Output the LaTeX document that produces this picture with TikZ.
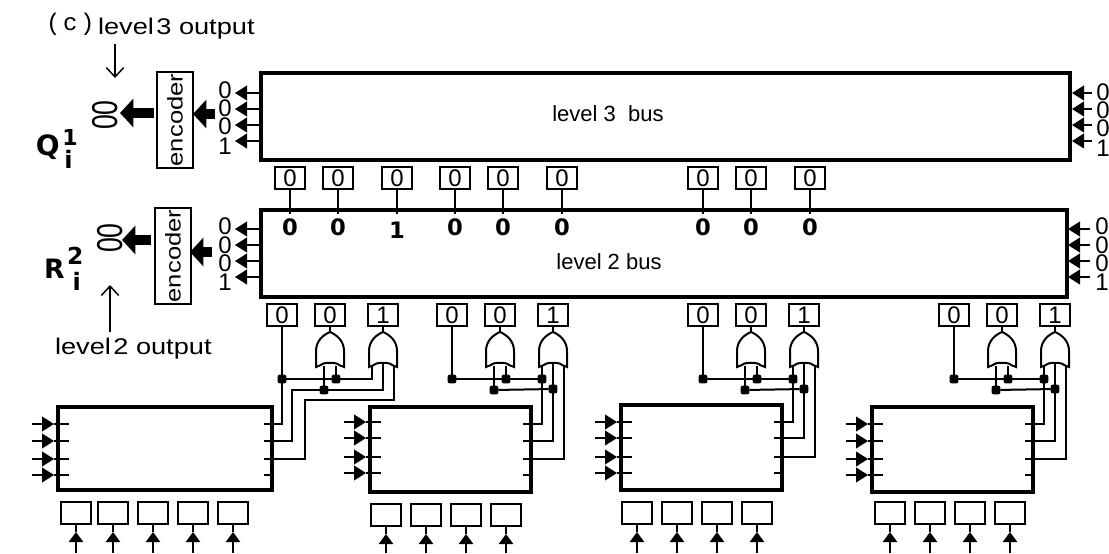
\documentclass[tikz,border=0pt]{standalone}
\usepackage{fontspec}
\setmainfont{Liberation Sans}
\newfontfamily\boldfam{DejaVu Sans}
\newfontfamily\monofam{Liberation Mono}
\usetikzlibrary{arrows.meta,calc}
\newcommand{\fs}[1]{\fontsize{#1}{#1}\selectfont}
\tikzset{
  every node/.style={inner sep=0pt,outer sep=0pt},
  wire/.style={line width=1.5pt,black},
  blockbox/.style={draw,line width=3.2pt},
  regbox/.style={draw,line width=1.6pt,minimum width=22.5pt,minimum height=16.5pt,font=\fs{18}},
  inbox/.style={draw,line width=1.6pt,minimum width=22.5pt,minimum height=16.5pt},
  encbox/.style={draw,line width=1.4pt,minimum width=27pt},
  dot/.style={rectangle,rounded corners=1.5pt,fill=black,minimum size=6.5pt},
  smallarrow/.style={wire,-{Triangle[length=9pt,width=11pt]}},
  fatarrow/.style={line width=7.5pt,-{Triangle[length=10pt,width=21pt]}},
  uparrow/.style={line width=2.2pt,-{Triangle[length=7.5pt,width=10.5pt]}},
  openarrow/.style={line width=1.1pt,-{Straight Barb[length=7pt,width=13pt]}},
  stackdigit/.style={font=\fs{18}},
  bolddigit/.style={font=\fs{17}\boldfam\bfseries},
  label/.style={font=\fs{16.5}},
}
% OR gate with its apex (#1) at x = #2 and inputs #1-l, #1-m, #1-r spaced by #3
\newcommand{\orgate}[3]{%
  \coordinate (#1) at (#2,332);
  \coordinate (#1-l) at (#2-#3,366);
  \coordinate (#1-m) at (#2,363);
  \coordinate (#1-r) at (#2+#3,366);
  \draw[wire] (#2,332) .. controls (#2+7,335) and (#2+14,341) .. (#2+14,351) -- (#2+14,367)
    -- (#2+9,365) .. controls (#2+7,362) and (#2-7,362) .. (#2-9,365) -- (#2-14,367) -- (#2-14,351)
    .. controls (#2-14,341) and (#2-7,335) .. (#2,332);
}
% block with left tick heights #6 and right tick heights #7
\newcommand{\myblock}[7]{%
  \node[blockbox,minimum width={(#3-#2)*.75pt},minimum height={(#5-#4)*.75pt}] (#1) at ({(#2+#3)/2},{(#4+#5)/2}) {};
  \foreach \yy [count=\ii] in {#6} {
    \coordinate (#1-a\ii) at (#2-26,\yy);
    \coordinate (#1-h\ii) at (#2-4,\yy);
    \coordinate (#1-t\ii) at (#2+11,\yy);
    \draw[smallarrow] (#1-a\ii) -- (#1-h\ii);
    \draw[wire] (#1-h\ii) -- (#1-t\ii);
  }
  \foreach \yy [count=\ii] in {#7} {
    \coordinate (#1-r\ii) at (#3,\yy);
    \coordinate (#1-q\ii) at (#3-8,\yy);
    \draw[wire] (#1-q\ii) -- (#1-r\ii);
  }
}
% input register #1 centred at x #2, y #3, with its arrow from the lower edge
\newcommand{\inreg}[3]{%
  \node[inbox] (#1) at (#2,#3) {};
  \coordinate (#1-in) at (#2,553);
  \coordinate (#1-tip) at (#2,#3+19);
  \draw[uparrow] (#1-in) -- (#1-tip);
  \draw[wire] (#1-tip) -- (#1.south);
}
\begin{document}
\begin{tikzpicture}[x=.75pt,y=-.75pt]
\useasboundingbox (0,0) rectangle (1109,553);

% buses
\node[blockbox,minimum width=606.5pt,minimum height=65.5pt] (bus3) at (665.5,116.5) {};
\node[label] (bus3t) at (608,114) {level 3\ \ bus};
\node[blockbox,minimum width=604.5pt,minimum height=65.5pt] (bus2) at (664,253.5) {};
\node[label] (bus2t) at (609,262) {level 2 bus};

% bus side arrows and digits
\foreach \yy/\dd/\dy [count=\ii] in {93/0/90, 109/0/108.5, 125/0/126.5, 141/1/146} {
  \coordinate (l3a\ii) at (259,\yy);
  \coordinate (l3b\ii) at (235,\yy);
  \draw[smallarrow] (l3a\ii) -- (l3b\ii);
  \node[stackdigit] (l3d\ii) at (225,\dy) {\dd};
  \coordinate (r3a\ii) at (1092,\yy);
  \coordinate (r3b\ii) at (1072,\yy);
  \draw[smallarrow] (r3a\ii) -- (r3b\ii);
  \node[stackdigit] (r3d\ii) at (1103,\dy+2) {\dd};
}
\foreach \yy/\dd/\dy [count=\ii] in {229/0/226, 245/0/245, 261/0/263, 277/1/282} {
  \coordinate (l2a\ii) at (259,\yy);
  \coordinate (l2b\ii) at (235,\yy);
  \draw[smallarrow] (l2a\ii) -- (l2b\ii);
  \node[stackdigit] (l2d\ii) at (225,\dy) {\dd};
  \coordinate (r2a\ii) at (1090,\yy);
  \coordinate (r2b\ii) at (1068,\yy);
  \draw[smallarrow] (r2a\ii) -- (r2b\ii);
  \node[stackdigit] (r2d\ii) at (1102,\dy) {\dd};
}

% encoders
\node[encbox,minimum height=72pt] (enc3) at (175,120) {};
\node[rotate=90,font=\fs{16}] (enc3t) at (175,120) {\scalebox{1.2}[1]{encoder}};
\node[encbox,minimum height=72pt] (enc2) at (173,256) {};
\node[rotate=90,font=\fs{16}] (enc2t) at (173,256) {\scalebox{1.2}[1]{encoder}};
\coordinate (f3a) at (215,114); \coordinate (f3b) at (193,114);
\coordinate (f3c) at (154,113); \coordinate (f3d) at (120,113);
\coordinate (f2a) at (212,252); \coordinate (f2b) at (190,252);
\coordinate (f2c) at (151,240); \coordinate (f2d) at (122,240);
\draw[fatarrow] (f3a) -- (f3b);
\draw[fatarrow] (f3c) -- (f3d);
\draw[fatarrow] (f2a) -- (f2b);
\draw[fatarrow] (f2c) -- (f2d);
\node[rotate=90,font=\fs{20}] (o3) at (105,115) {\scalebox{1}[1.35]{00}};
\node[rotate=90,font=\fs{20}] (o2) at (110,238) {\scalebox{1}[1.35]{00}};

% labels
\node[font=\fs{17},anchor=west] (t3) at (98,29) {\scalebox{1.2}[1]{level\kern1.5pt 3 output}};
\node[font=\fs{17},anchor=west] (t2) at (55,349) {\scalebox{1.2}[1]{level\kern1.5pt 2 output}};
\node[font=\fs{18}\monofam,anchor=west] (tc) at (46,24) {(\hspace{2pt}c\hspace{2pt})};
\coordinate (ar3a) at (115,44); \coordinate (ar3b) at (115,78);
\coordinate (ar2a) at (110,332); \coordinate (ar2b) at (110,285);
\draw[openarrow] (ar3a) -- (ar3b);
\draw[openarrow] (ar2a) -- (ar2b);
\node[font=\fs{21}\boldfam\bfseries,anchor=base west] (Q) at (36,155) {Q\raisebox{7pt}{\fs{16.5}\rlap{\hspace{2pt}1}}\raisebox{-10pt}{\fs{18}\hspace{3.5pt}i}};
\node[font=\fs{20}\boldfam\bfseries,anchor=base west] (R) at (44,278) {R\raisebox{10pt}{\fs{17.5}\rlap{\hspace{2pt}2}}\raisebox{-9pt}{\fs{18}\hspace{6pt}i}};

% level 3 registers
\foreach \cx/\dd/\dy [count=\ii] in {290/0/227, 338/0/227, 397/1/230, 455/0/227, 503/0/227, 562/0/227, 703/0/227, 751/0/227, 810/0/227} {
  \node[regbox] (u\ii) at (\cx,178) {0};
  \coordinate (ut\ii) at (\cx,214);
  \draw[wire] (u\ii.south) -- (ut\ii);
  \node[bolddigit] (ud\ii) at (\cx,\dy) {\dd};
}

% level 2 registers
\foreach \cx/\dd [count=\ii] in {282/0, 330/0, 383/1, 452/0, 500/0, 553/1, 703/0, 751/0, 804/1, 954/0, 1002/0, 1055/1} {
  \node[regbox] (v\ii) at (\cx,315) {\dd};
}

% gates
\orgate{g11}{330}{6}
\orgate{g12}{383}{11}
\orgate{g21}{500}{6}
\orgate{g22}{553}{11}
\orgate{g31}{751}{6}
\orgate{g32}{804}{11}
\orgate{g41}{1002}{6}
\orgate{g42}{1055}{11}
\draw[wire] (v2.south) -- (g11);
\draw[wire] (v3.south) -- (g12);
\draw[wire] (v5.south) -- (g21);
\draw[wire] (v6.south) -- (g22);
\draw[wire] (v8.south) -- (g31);
\draw[wire] (v9.south) -- (g32);
\draw[wire] (v11.south) -- (g41);
\draw[wire] (v12.south) -- (g42);

% blocks
\myblock{b1}{58}{272}{407}{490}{424,441,459,475}{424,441,459,475}
\myblock{b2}{370}{531}{407}{492}{422,438,457,473}{424,441,459,475}
\myblock{b3}{621}{782}{405}{490}{422,438,457,473}{422,438,457,473}
\myblock{b4}{872}{1033}{407}{492}{424,441,459,475}{424,441,459,475}

% input registers
\foreach \cx [count=\ii] in {76,113,153,193,233} { \inreg{ia\ii}{\cx}{513} }
\foreach \cx [count=\ii] in {386,426,466,506} { \inreg{ib\ii}{\cx}{515} }
\foreach \cx [count=\ii] in {637,677,717,757} { \inreg{ic\ii}{\cx}{513} }
\foreach \cx [count=\ii] in {890,930,970,1010} { \inreg{id\ii}{\cx}{513} }

% wiring, group 1
\node[dot] (j11) at (282,379) {};
\node[dot] (j12) at (336,379) {};
\node[dot] (j13) at (324,390) {};
\draw[wire] (b1-r1) -| (v1.south);
\draw[wire] (j11) -| (g12-l);
\coordinate (k1) at (292,390);
\draw[wire] (b1-r2) -| (k1) -| (g12-m);
\coordinate (k2) at (305,400);
\draw[wire] (b1-r3) -| (k2) -| (g12-r);
\draw[wire] (j12) -- (g11-r);
\draw[wire] (j13) -- (g11-l);

% wiring, groups 2 to 4
\foreach \g/\gg/\vv/\b in {2/21/4/b2, 3/31/7/b3, 4/41/10/b4} {
  \pgfmathtruncatemacro{\gb}{\gg+1}
  \coordinate (tmp\g) at (v\vv.south);
  \node[dot] (j\g1) at (tmp\g |- 0,379) {};
  \node[dot] (j\g2) at (g\gg-r |- 0,379) {};
  \node[dot] (j\g3) at (g\gg-l |- 0,390) {};
  \node[dot] (j\g4) at (g\gb-l |- 0,379) {};
  \node[dot] (j\g5) at (g\gb-m |- 0,389) {};
  \draw[wire] (v\vv.south) -- (j\g1);
  \draw[wire] (j\g1) -- (j\g4);
  \draw[wire] (j\g3) -- (j\g5);
  \draw[wire] (j\g2) -- (g\gg-r);
  \draw[wire] (j\g3) -- (g\gg-l);
  \draw[wire] (\b-r1) -| (g\gb-l);
  \draw[wire] (\b-r2) -| (g\gb-m);
  \draw[wire] (\b-r3) -| (g\gb-r);
}
\end{tikzpicture}
\end{document}
